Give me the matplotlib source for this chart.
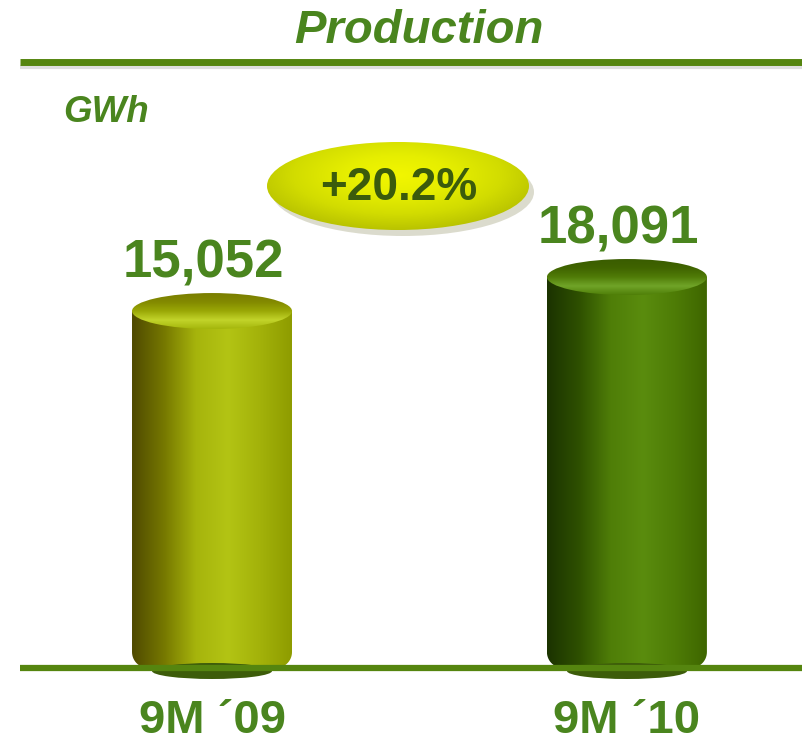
import numpy as np
import matplotlib
matplotlib.use("Agg")
import matplotlib.pyplot as plt
from matplotlib.colors import LinearSegmentedColormap
from matplotlib.patches import Ellipse, Polygon

plt.rcParams["font.family"] = ["Liberation Sans", "DejaVu Sans"]

title = "Production"
unit = "GWh"
periods = ["9M \u00b409", "9M \u00b410"]
production_gwh = [15052, 18091]
growth_label = "+20.2%"

GREEN = "#4a851e"
LINE_GREEN = "#55850f"
DARK_TEXT = "#3b5b0c"

# body gradients (left -> right) and cap gradients (back -> front rim)
_BODY = [
    ["#4f4a00", "#767800", "#a6b40c", "#b3c414", "#a3b20a", "#8e9c00"],
    ["#1b3300", "#2e5000", "#4f7e08", "#5a8c0e", "#4e7c06", "#3e6600"],
]
_CAP = [
    ["#7a7e00", "#838a00", "#9aa806", "#c2d42a", "#a4b60c"],
    ["#3a5c00", "#406400", "#507c08", "#70a428", "#4f7e08"],
]


def _body_poly(xc, w, base, top, rx, ry):
    x0, x1 = xc - w / 2, xc + w / 2
    t = np.linspace(np.pi, 1.5 * np.pi, 16)
    left = np.column_stack([x0 + rx + rx * np.cos(t), base + ry + ry * np.sin(t)])
    t2 = np.linspace(1.5 * np.pi, 2 * np.pi, 16)
    right = np.column_stack([x1 - rx + rx * np.cos(t2), base + ry + ry * np.sin(t2)])
    pts = np.vstack([[x0, top], left, right, [x1, top]])
    return Polygon(pts, closed=True, facecolor="none", edgecolor="none")


fig = plt.figure(figsize=(8.02, 7.42), dpi=100)

# data axes: bottom edge sits on the baseline rule
ax = fig.add_axes([0, 74 / 742, 1, 668 / 742])
y_lo, y_hi = -16850, 42850
x_lo, x_hi = -0.511, 1.422
px_y = 668 / (y_hi - y_lo)
px_x = 802 / (x_hi - x_lo)
bar_w = 160 / px_x
cap = 18 / px_y
rx, ry = 16 / px_x, 16 / px_y

for i, v in enumerate(production_gwh):
    body = _body_poly(i, bar_w, y_lo, v, rx, ry)
    ax.add_patch(body)
    cmap = LinearSegmentedColormap.from_list(f"body{i}", _BODY[i])
    im = ax.imshow(np.linspace(0, 1, 256)[None, :], cmap=cmap, aspect="auto",
                   extent=(i - bar_w / 2, i + bar_w / 2, y_lo, v), zorder=2)
    im.set_clip_path(body)

    top = Ellipse((i, v), bar_w, 2 * cap, facecolor="none", edgecolor="none")
    ax.add_patch(top)
    ccmap = LinearSegmentedColormap.from_list(f"cap{i}", _CAP[i])
    im2 = ax.imshow(np.linspace(0, 1, 256)[:, None], cmap=ccmap, aspect="auto",
                    extent=(i - bar_w / 2, i + bar_w / 2, v - cap, v + cap), zorder=3)
    im2.set_clip_path(top)

    ax.annotate(f"{v:,}", (i, v + cap), xytext=(-6, 11), textcoords="offset points",
                ha="center", va="baseline", fontsize=38, fontweight="bold", color=GREEN)

ax.set_xlim(x_lo, x_hi)
ax.set_ylim(y_lo, y_hi)
ax.set_xticks(range(len(periods)))
ax.set_xticklabels(periods, fontsize=34, fontweight="bold", color=GREEN)
ax.tick_params(axis="x", length=0, pad=22)
ax.set_yticks([])
for s in ax.spines.values():
    s.set_visible(False)
ax.patch.set_alpha(0)

# overlay in pixel coordinates for the slide decorations
ov = fig.add_axes([0, 0, 1, 1], zorder=5)
ov.set_xlim(0, 802)
ov.set_ylim(742, 0)
ov.axis("off")
ov.patch.set_alpha(0)

ov.text(419, 43, title, ha="center", va="baseline", fontsize=34, fontweight="bold",
        fontstyle="italic", color=GREEN)
ov.plot([20, 802], [66.5, 66.5], color="#c8c8c8", lw=3, alpha=0.6, solid_capstyle="butt")
ov.plot([20, 802], [61.5, 61.5], color=LINE_GREEN, lw=5, solid_capstyle="butt")
ov.text(63, 122, unit, ha="left", va="baseline", fontsize=26.5, fontweight="bold",
        fontstyle="italic", color=GREEN)

for cx in (212, 627):
    ov.add_patch(Ellipse((cx, 671), 120, 16, facecolor="#3d5c0a", edgecolor="none", zorder=1))
ov.plot([20, 802], [668, 668], color=LINE_GREEN, lw=4.5, solid_capstyle="butt", zorder=2)

# growth badge
ecx, ecy, ew, eh = 398, 186, 262, 88
ov.add_patch(Ellipse((ecx + 5, ecy + 6), ew, eh, facecolor="#9a9a70", alpha=0.35,
                     edgecolor="none", zorder=3))
badge = Ellipse((ecx, ecy), ew, eh, facecolor="none", edgecolor="none", zorder=4)
ov.add_patch(badge)
gx = np.linspace(-1, 1, 300)
gy = np.linspace(-1, 1, 120)
GX, GY = np.meshgrid(gx, gy)
R = np.sqrt(GX ** 2 + ((GY + 0.25) * 0.9) ** 2)
bcmap = LinearSegmentedColormap.from_list("badge", ["#f2f600", "#e6ee00", "#d2dc00", "#b4be00"])
im3 = ov.imshow(np.clip(R, 0, 1.2), cmap=bcmap, aspect="auto", origin="upper",
                extent=(ecx - ew / 2, ecx + ew / 2, ecy + eh / 2, ecy - eh / 2), zorder=4)
im3.set_clip_path(badge)
ov.text(ecx + 1, ecy + 2, growth_label, ha="center", va="center", fontsize=33,
        fontweight="bold", color=DARK_TEXT, zorder=6)
ov.set_xlim(0, 802)
ov.set_ylim(742, 0)

fig.savefig("out.png", dpi=100)
